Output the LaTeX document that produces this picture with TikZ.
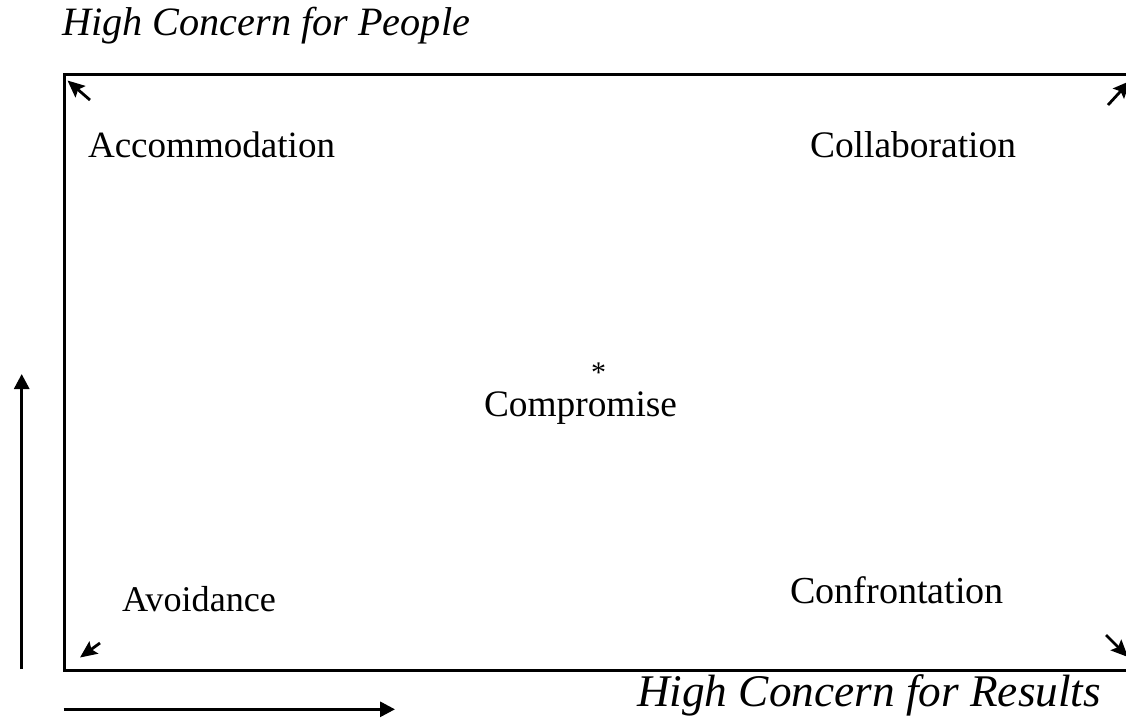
\documentclass[tikz,border=0pt]{standalone}
\usepackage{graphicx}
\usepackage{fontspec}
\setmainfont{Liberation Serif}
\usetikzlibrary{arrows.meta}

% set a word so that it spans the given width
\newcommand{\spanw}[2]{\resizebox{#1}{!}{#2}}

\tikzset{
  lbl/.style={inner sep=0pt, outer sep=0pt, anchor=base west},
  frame/.style={line width=3pt},
  axis/.style={line width=3pt, -{Triangle[length=15pt,width=15pt]}},
  corner/.style={line width=2.8pt, -{Stealth[length=17pt,width=15pt,inset=3pt]}}
}

\begin{document}
\begin{tikzpicture}[x=1pt,y=-1pt]
  \useasboundingbox (0,0) rectangle (1126,721);
  \clip (0,0) rectangle (1126,721);

  % the frame, running past the right edge
  \coordinate (tl) at (64,74.5);
  \coordinate (br) at (1140,670.5);
  \draw[frame] (1140,74.5) -- (tl) |- (br);

  % axis arrows
  \coordinate (ya) at (21.7,669);
  \coordinate (yb) at (21.7,374);
  \draw[axis] (ya) -- (yb);
  \coordinate (xa) at (63.5,709.3);
  \coordinate (xb) at (395,709.3);
  \draw[axis] (xa) -- (xb);

  % corner arrows
  \coordinate (c1a) at (90,100);
  \coordinate (c1b) at (67.5,80.5);
  \draw[corner] (c1a) -- (c1b);
  \coordinate (c2a) at (1108,105);
  \coordinate (c2b) at (1130,81);
  \draw[corner] (c2a) -- (c2b);
  \coordinate (c3a) at (100,643);
  \coordinate (c3b) at (80,657.5);
  \draw[corner] (c3a) -- (c3b);
  \coordinate (c4a) at (1106,635);
  \coordinate (c4b) at (1128,657);
  \draw[corner] (c4a) -- (c4b);

  % labels
  \node[lbl] (title) at (62,35) {\spanw{408pt}{\itshape High Concern for People}};
  \node[lbl] (acc) at (88,157.7) {\spanw{247pt}{Accommodation}};
  \node[lbl] (col) at (810,157.7) {\spanw{206pt}{Collaboration}};
  \node[lbl] (star) at (591,382) {\fontsize{30}{30}\selectfont *};
  \node[lbl] (comp) at (484,416.7) {\spanw{193pt}{Compromise}};
  \node[lbl] (avoid) at (122,611.7) {\spanw{154pt}{Avoidance}};
  \node[lbl] (conf) at (790,603) {\spanw{214pt}{Confrontation}};
  \node[lbl] (results) at (637,706.7) {\spanw{464pt}{\itshape High Concern for Results}};
\end{tikzpicture}
\end{document}
